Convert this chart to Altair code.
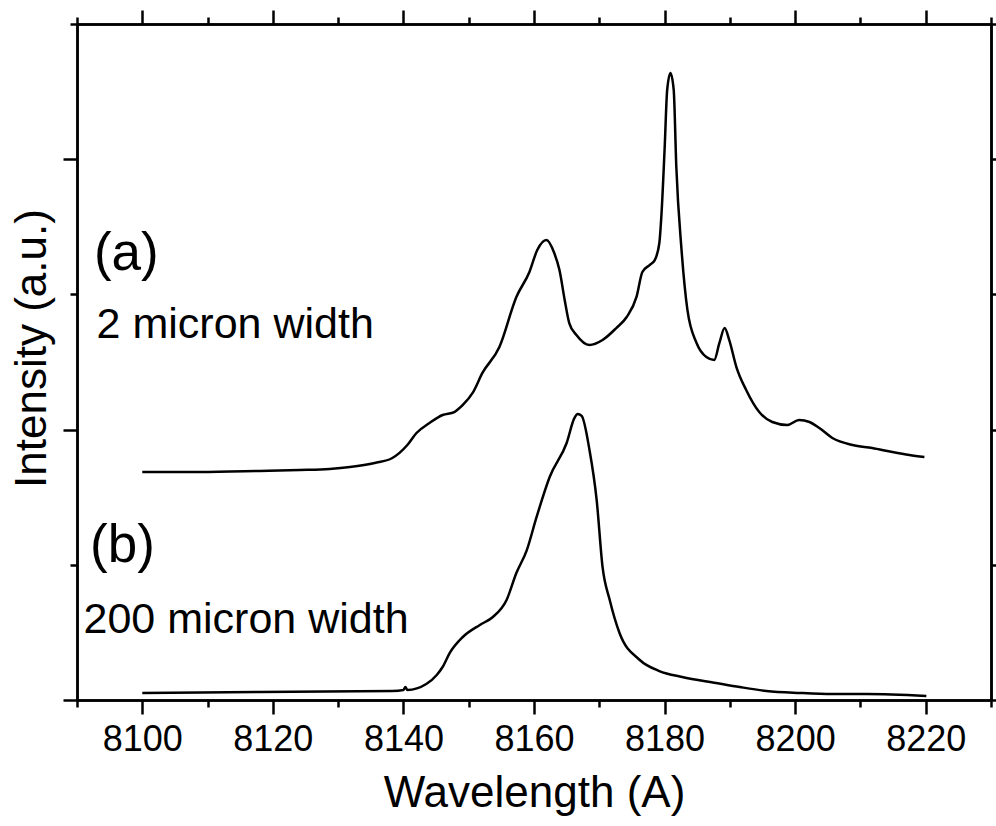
import altair as alt
import pandas as pd

# ---- curve (a): 2 micron width ----
a_wl = [8100.0, 8108.8, 8118.0, 8124.1, 8128.7, 8131.8, 8135.6, 8138.3, 8140.6, 8142.0,
        8144.0, 8146.0, 8147.8, 8149.1, 8150.6, 8152.1, 8154.7, 8157.3, 8159.3, 8160.5,
        8161.9, 8163.1, 8163.9, 8164.7, 8165.4, 8166.5, 8168.5, 8170.5, 8172.6, 8174.2,
        8175.7, 8176.6, 8177.7, 8178.5, 8179.2, 8179.5, 8180.0, 8180.4, 8180.9, 8181.4,
        8181.8, 8182.6, 8183.5, 8184.9, 8186.4, 8187.6, 8188.4, 8189.2, 8189.9, 8191.0,
        8192.5, 8194.5, 8196.5, 8198.8, 8200.6, 8202.2, 8203.7, 8205.7, 8208.8, 8211.8,
        8214.9, 8217.5, 8219.8]
a_int = [1.686, 1.686, 1.694, 1.701, 1.709, 1.723, 1.753, 1.790, 1.886, 1.975,
         2.049, 2.108, 2.130, 2.182, 2.271, 2.419, 2.611, 2.981, 3.166, 3.328,
         3.402, 3.306, 3.180, 2.959, 2.788, 2.700, 2.626, 2.663, 2.751, 2.833,
         2.981, 3.166, 3.217, 3.254, 3.380, 3.572, 4.068, 4.512, 4.638, 4.512,
         3.942, 3.328, 2.885, 2.641, 2.537, 2.515, 2.641, 2.751, 2.663, 2.463,
         2.293, 2.130, 2.056, 2.034, 2.071, 2.056, 2.012, 1.938, 1.886, 1.864,
         1.834, 1.812, 1.797]

# ---- curve (b): 200 micron width ----
b_wl = [8100.0, 8117.9, 8138.3, 8140.0, 8140.3, 8140.6, 8143.5, 8145.1, 8146.0, 8147.1,
        8149.1, 8151.7, 8153.7, 8155.8, 8157.3, 8158.9, 8160.4, 8162.4, 8165.0, 8166.2,
        8166.7, 8167.3, 8168.5, 8169.6, 8170.5, 8171.6, 8173.1, 8176.2, 8179.2, 8182.7,
        8187.9, 8191.5, 8195.6, 8200.7, 8205.7, 8210.9, 8220.1]
b_int = [0.052, 0.059, 0.067, 0.074, 0.096, 0.074, 0.118, 0.185, 0.244, 0.348,
         0.466, 0.555, 0.614, 0.740, 0.939, 1.109, 1.354, 1.649, 1.901, 2.086,
         2.115, 2.101, 1.849, 1.479, 0.984, 0.740, 0.496, 0.296, 0.214, 0.170,
         0.126, 0.096, 0.067, 0.052, 0.044, 0.044, 0.030]

# ---- ticks ----
x_major = [8100, 8120, 8140, 8160, 8180, 8200, 8220]
x_minor = [8090, 8110, 8130, 8150, 8170, 8190, 8210, 8230]
y_major = [0, 2, 4]
y_minor = [1, 3, 5]

# ---- annotations ----
lab_text = ["(a)", "2 micron width", "(b)", "200 micron width"]
lab_x = [8092.6, 8093.0, 8092.0, 8091.0]
lab_y = [3.18, 2.678, 1.021, 0.496]
lab_size = [53, 43, 53, 43]

FONT = "Liberation Sans"
df_a = pd.DataFrame({"wl": a_wl, "I": a_int})
df_b = pd.DataFrame({"wl": b_wl, "I": b_int})
df_lab = pd.DataFrame({"wl": lab_x, "I": lab_y, "t": lab_text, "fs": lab_size})

xs = alt.Scale(domain=[8090, 8230], nice=False, zero=False)
ys = alt.Scale(domain=[0, 5], nice=False, zero=False)

base_ax = dict(grid=False, domainColor="black", domainWidth=2.5, tickColor="black",
               tickWidth=2.5, labelFont=FONT, titleFont=FONT, labelColor="black",
               titleColor="black", titleFontWeight="normal")


def ax(orient, values, size, labels=False, title=None, **kw):
    d = dict(base_ax)
    d.update(kw)
    return alt.Axis(orient=orient, values=values, tickSize=size, labels=labels,
                    title=title, **d)


line_a = alt.Chart(df_a).mark_line(color="black", strokeWidth=2.5,
                                   interpolate="monotone").encode(
    x=alt.X("wl:Q", scale=xs,
            axis=ax("bottom", x_major, 14, labels=True, title="Wavelength (A)",
                    format="d", labelFontSize=36, labelPadding=8, labelFlush=False,
                    labelOverlap=False, titleFontSize=44, titlePadding=14)),
    y=alt.Y("I:Q", scale=ys,
            axis=ax("left", y_major, 14, title="Intensity (a.u.)",
                    titleFontSize=44, titlePadding=7, titleY=324)),
)

line_b = alt.Chart(df_b).mark_line(color="black", strokeWidth=2.5,
                                   interpolate="monotone").encode(
    x=alt.X("wl:Q", scale=xs, axis=ax("top", x_major, 14)),
    y=alt.Y("I:Q", scale=ys, axis=ax("right", y_major, 14)),
)

minor1 = alt.Chart(df_a).mark_line(strokeOpacity=0).encode(
    x=alt.X("wl:Q", scale=xs, axis=ax("bottom", x_minor, 7)),
    y=alt.Y("I:Q", scale=ys, axis=ax("left", y_minor, 7)),
)

minor2 = alt.Chart(df_b).mark_line(strokeOpacity=0).encode(
    x=alt.X("wl:Q", scale=xs, axis=ax("top", x_minor, 7)),
    y=alt.Y("I:Q", scale=ys, axis=ax("right", y_minor, 7)),
)

labels = alt.Chart(df_lab).mark_text(align="left", baseline="alphabetic", font=FONT,
                                     color="black").encode(
    x=alt.X("wl:Q", scale=xs, axis=None),
    y=alt.Y("I:Q", scale=ys, axis=None),
    text="t:N",
    size=alt.Size("fs:Q", scale=None, legend=None),
)

chart = alt.layer(line_a, line_b, minor1, minor2, labels).resolve_axis(
    x="independent", y="independent"
).properties(
    width=914, height=676,
    autosize=alt.AutoSizeParams(type="none"),
    padding={"left": 77, "top": 24, "right": 5, "bottom": 126},
    background="white",
).configure_view(stroke=None)

chart.save("out.html", embed_options={"renderer": "svg", "actions": False})
